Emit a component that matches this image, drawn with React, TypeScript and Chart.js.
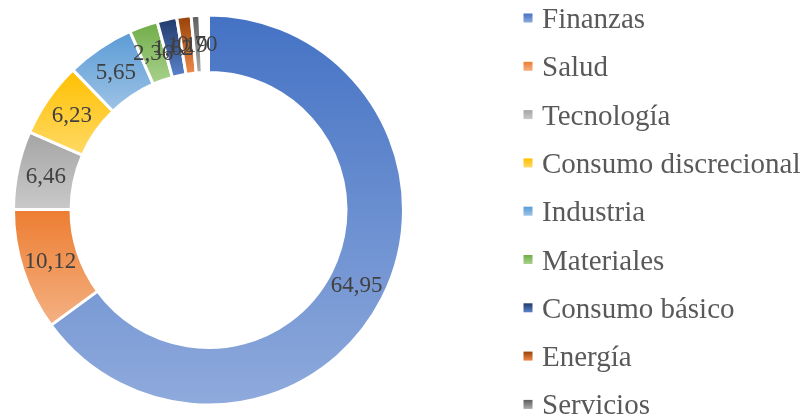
import React, { useEffect, useRef } from 'react';
import { Chart, registerables } from 'chart.js';

Chart.register(...registerables);

const categories = [
  'Finanzas',
  'Salud',
  'Tecnología',
  'Consumo discrecional',
  'Industria',
  'Materiales',
  'Consumo básico',
  'Energía',
  'Servicios',
];
const values = [64.95, 10.12, 6.46, 6.23, 5.65, 2.36, 1.62, 1.19, 0.7];
const topColors = ['#4472C4', '#ED7D31', '#A5A5A5', '#FFC000', '#5B9BD5', '#70AD47', '#203A6A', '#964208', '#5E5E5E'];
const bottomColors = ['#8FAADC', '#F4B183', '#C9C9C9', '#FFD966', '#9DC3E6', '#A9D18E', '#5A82CC', '#F0894A', '#ABABAB'];

const FONT = '"Liberation Serif", "Times New Roman", serif';

function fmt(v: number) {
  return v.toFixed(2).replace('.', ',');
}

const gradientPlugin = {
  id: 'sliceGradients',
  beforeDatasetsDraw(chart: any) {
    const ctx = chart.ctx as CanvasRenderingContext2D;
    const meta = chart.getDatasetMeta(0);
    meta.data.forEach((el: any, i: number) => {
      const { y, startAngle, endAngle, innerRadius, outerRadius } = el.getProps(
        ['y', 'startAngle', 'endAngle', 'innerRadius', 'outerRadius'],
        true
      );
      let minY = Infinity;
      let maxY = -Infinity;
      for (let k = 0; k <= 80; k++) {
        const a = startAngle + ((endAngle - startAngle) * k) / 80;
        for (const r of [innerRadius, outerRadius]) {
          const yy = y + r * Math.sin(a);
          if (yy < minY) minY = yy;
          if (yy > maxY) maxY = yy;
        }
      }
      const g = ctx.createLinearGradient(0, minY, 0, maxY);
      g.addColorStop(0, topColors[i]);
      g.addColorStop(1, bottomColors[i]);
      el.options.backgroundColor = g;
    });
  },
  afterDatasetsDraw(chart: any) {
    const ctx = chart.ctx as CanvasRenderingContext2D;
    const meta = chart.getDatasetMeta(0);
    ctx.save();
    ctx.font = `23px ${FONT}`;
    ctx.fillStyle = '#404040';
    ctx.textAlign = 'center';
    ctx.textBaseline = 'middle';
    meta.data.forEach((el: any, i: number) => {
      const { x, y, startAngle, endAngle, innerRadius, outerRadius } = el.getProps(
        ['x', 'y', 'startAngle', 'endAngle', 'innerRadius', 'outerRadius'],
        true
      );
      const mid = (startAngle + endAngle) / 2;
      const r = (innerRadius + outerRadius) / 2;
      ctx.fillText(fmt(values[i]), x + r * Math.cos(mid), y + r * Math.sin(mid) + 1);
    });
    ctx.restore();
  },
  afterDraw(chart: any) {
    const ctx = chart.ctx as CanvasRenderingContext2D;
    const labels = chart.data.labels as string[];
    ctx.save();
    ctx.font = `29px ${FONT}`;
    ctx.textAlign = 'left';
    ctx.textBaseline = 'alphabetic';
    labels.forEach((lab, i) => {
      const cy = 18 + i * 48.3;
      const g = ctx.createLinearGradient(0, cy - 4.5, 0, cy + 4.5);
      g.addColorStop(0, topColors[i]);
      g.addColorStop(1, bottomColors[i]);
      ctx.fillStyle = g;
      ctx.fillRect(523.5, cy - 4.5, 9, 9);
      ctx.fillStyle = '#595959';
      ctx.fillText(lab, 542, cy + 10);
    });
    ctx.restore();
  },
};

export default function App() {
  const ref = useRef<HTMLCanvasElement | null>(null);
  useEffect(() => {
    document.body.style.margin = '0';
    const canvas = ref.current!;
    const total = values.reduce((a, b) => a + b, 0);
    const chart = new Chart(canvas, {
      type: 'doughnut',
      data: {
        labels: categories,
        datasets: [
          {
            data: values,
            backgroundColor: topColors.slice(),
            borderColor: '#ffffff',
            borderWidth: 3,
          },
        ],
      },
      options: {
        responsive: false,
        animation: false,
        devicePixelRatio: 1,
        cutout: '70.5%',
        circumference: (360 * total) / 100,
        layout: { padding: { left: 11.5, top: 13.5, right: 399.5, bottom: 9.5 } },
        plugins: {
          legend: { display: false },
          tooltip: { enabled: false },
        },
      },
      plugins: [gradientPlugin],
    });
    return () => chart.destroy();
  }, []);
  return (
    <div style={{ width: 805, height: 416, background: '#fff' }}>
      <canvas ref={ref} width={805} height={416} style={{ display: 'block' }} />
    </div>
  );
}
